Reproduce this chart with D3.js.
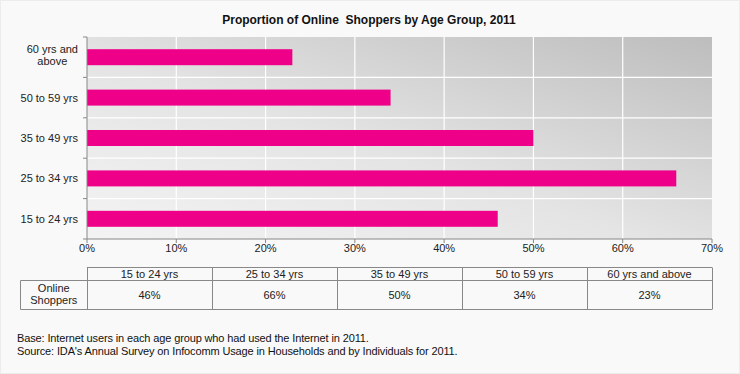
<!DOCTYPE html>
<html><head><meta charset="utf-8">
<script src="https://cdn.jsdelivr.net/npm/d3@7"></script>
<style>body{margin:0;background:#fff;}svg{display:block;font-family:"Liberation Sans",Arial,sans-serif;}</style>
</head><body>
<svg id="c" width="740" height="374"></svg>
<script>
const categories = ["15 to 24 yrs","25 to 34 yrs","35 to 49 yrs","50 to 59 yrs","60 yrs and above"];
const axisLabels = [["15 to 24 yrs"],["25 to 34 yrs"],["35 to 49 yrs"],["50 to 59 yrs"],["60 yrs and","above"]];
const values = [46, 66, 50, 34, 23];
const seriesName = ["Online","Shoppers"];
const xTicks = [0,10,20,30,40,50,60,70];
const title = "Proportion of Online  Shoppers by Age Group, 2011";
const notes = ["Base: Internet users in each age group who had used the Internet in 2011.",
               "Source: IDA's Annual Survey on Infocomm Usage in Households and by Individuals for 2011."];

const svg = d3.select("#c");
const W = 740, H = 374;
const m = {l:87, r:712, t:37, b:239};

svg.append("rect").attr("x",0.5).attr("y",0.5).attr("width",W-1).attr("height",H-1)
  .attr("fill","#f9f9f9").attr("stroke","#ececec");

const defs = svg.append("defs");
const g = defs.append("linearGradient").attr("id","bg").attr("x1",0).attr("y1",1).attr("x2",1).attr("y2",0);
g.append("stop").attr("offset","0%").attr("stop-color","#f3f3f3");
g.append("stop").attr("offset","45%").attr("stop-color","#e4e4e4");
g.append("stop").attr("offset","100%").attr("stop-color","#bdbdbd");

const x = d3.scaleLinear().domain([0,70]).range([m.l,m.r]);
const y = d3.scaleBand().domain(categories.slice().reverse()).range([m.t,m.b]).paddingInner(0).paddingOuter(0);

svg.append("rect").attr("x",m.l).attr("y",m.t).attr("width",m.r-m.l).attr("height",m.b-m.t).attr("fill","url(#bg)");

// gridlines
svg.append("g").selectAll("line").data(xTicks.slice(1,-1)).join("line")
  .attr("x1",d=>x(d)).attr("x2",d=>x(d)).attr("y1",m.t).attr("y2",m.b)
  .attr("stroke","#fff").attr("stroke-width",1.2);
svg.append("g").selectAll("line").data(categories.slice(0,-1)).join("line")
  .attr("x1",m.l).attr("x2",m.r).attr("y1",d=>y(d)).attr("y2",d=>y(d))
  .attr("stroke","#fff").attr("stroke-width",1.2);

// bars
const bh = 16;
svg.append("g").selectAll("rect").data(categories).join("rect")
  .attr("x",x(0)).attr("y",d=>y(d)+y.bandwidth()/2-bh/2)
  .attr("width",(d,i)=>x(values[i])-x(0)).attr("height",bh).attr("fill","#ee0088");

// axes
const axCol = "#888";
const yAxis = svg.append("g");
yAxis.append("line").attr("x1",m.l).attr("x2",m.l).attr("y1",m.t).attr("y2",m.b).attr("stroke",axCol);
const bounds = categories.map(d=>y(d)).concat([m.b]);
yAxis.selectAll(".t").data(bounds).join("line").attr("class","t")
  .attr("x1",m.l-4).attr("x2",m.l).attr("y1",d=>d).attr("y2",d=>d).attr("stroke",axCol);

categories.forEach((c,i)=>{
  const lines = axisLabels[i];
  const cy = y(c)+y.bandwidth()/2;
  if(lines.length===1){
    yAxis.append("text").attr("x",78).attr("y",cy+4).attr("text-anchor","end")
      .attr("font-size",11).attr("fill","#222").text(lines[0]);
  } else {
    const t1 = yAxis.append("text").attr("x",78).attr("y",cy-4).attr("text-anchor","end")
      .attr("font-size",11).attr("fill","#222").text(lines[0]);
    const w = t1.node().getComputedTextLength();
    yAxis.append("text").attr("x",78-w/2).attr("y",cy+8).attr("text-anchor","middle")
      .attr("font-size",11).attr("fill","#222").text(lines[1]);
  }
});

const xAxis = svg.append("g");
xAxis.append("line").attr("x1",m.l).attr("x2",m.r).attr("y1",m.b).attr("y2",m.b).attr("stroke",axCol);
xAxis.selectAll(".t").data(xTicks).join("line").attr("class","t")
  .attr("x1",d=>x(d)).attr("x2",d=>x(d)).attr("y1",m.b).attr("y2",m.b+4).attr("stroke",axCol);
xAxis.selectAll("text").data(xTicks).join("text")
  .attr("x",d=>x(d)).attr("y",m.b+13).attr("text-anchor","middle")
  .attr("font-size",11).attr("fill","#222").text(d=>d+"%");

// title
svg.append("text").attr("x",369).attr("y",24).attr("text-anchor","middle")
  .attr("font-size",12).attr("font-weight","bold").attr("fill","#111")
  .style("white-space","pre").text(title);

// data table
const tb = svg.append("g");
const colW = (m.r-m.l)/categories.length;
const tTop = 267.5, tMid = 280.5, tBot = 309.5, tLeft = 20.5;
const lc = "#888";
tb.append("line").attr("x1",m.l).attr("x2",m.r).attr("y1",tTop).attr("y2",tTop).attr("stroke",lc);
tb.append("line").attr("x1",tLeft).attr("x2",m.r).attr("y1",tMid).attr("y2",tMid).attr("stroke",lc);
tb.append("line").attr("x1",tLeft).attr("x2",m.r).attr("y1",tBot).attr("y2",tBot).attr("stroke",lc);
tb.append("line").attr("x1",tLeft).attr("x2",tLeft).attr("y1",tMid).attr("y2",tBot).attr("stroke",lc);
d3.range(categories.length+1).forEach(i=>{
  const xx = Math.round(m.l+i*colW)+0.5;
  tb.append("line").attr("x1",xx).attr("x2",xx).attr("y1",tTop).attr("y2",tBot).attr("stroke",lc);
});
categories.forEach((c,i)=>{
  const cx = m.l+(i+0.5)*colW;
  tb.append("text").attr("x",cx).attr("y",277.5).attr("text-anchor","middle").attr("font-size",11).attr("fill","#222").text(c);
  tb.append("text").attr("x",cx).attr("y",299).attr("text-anchor","middle").attr("font-size",11).attr("fill","#222").text(values[i]+"%");
});
tb.append("text").attr("x",(tLeft+m.l)/2).attr("y",292).attr("text-anchor","middle").attr("font-size",11).attr("fill","#222").text(seriesName[0]);
tb.append("text").attr("x",(tLeft+m.l)/2).attr("y",304).attr("text-anchor","middle").attr("font-size",11).attr("fill","#222").text(seriesName[1]);

// notes
notes.forEach((n,i)=>{
  svg.append("text").attr("x",17).attr("y",342+i*13).attr("font-size",11).attr("fill","#111")
    .attr("letter-spacing",-0.13).text(n);
});
</script>
</body></html>
